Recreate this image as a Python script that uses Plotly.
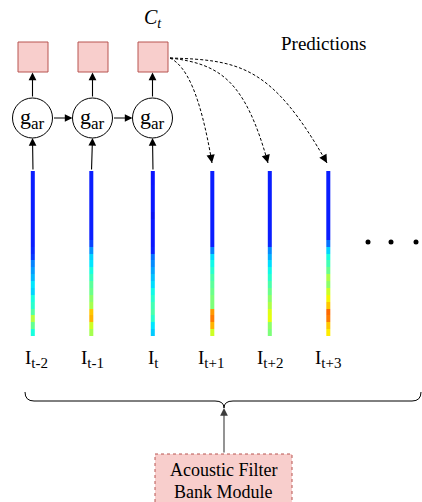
import plotly.graph_objects as go
import numpy as np

# ---- data ----
steps = ["t-2", "t-1", "t", "t+1", "t+2", "t+3"]
strip_x = [33, 91.5, 153, 212.5, 270, 328.5]
observed = [True, True, True, False, False, False]
# filter-bank energies (top -> bottom), normalised 0..1
energies = [
    [0.13, 0.13, 0.13, 0.13, 0.13, 0.13, 0.13, 0.13, 0.13, 0.13, 0.13, 0.14, 0.16, 0.24, 0.27, 0.3, 0.35, 0.33, 0.38, 0.4, 0.45, 0.57, 0.47, 0.38],
    [0.13, 0.13, 0.13, 0.13, 0.13, 0.13, 0.13, 0.13, 0.13, 0.13, 0.17, 0.26, 0.33, 0.35, 0.38, 0.42, 0.46, 0.48, 0.52, 0.55, 0.7, 0.72, 0.6, 0.55],
    [0.11, 0.11, 0.12, 0.12, 0.12, 0.12, 0.1, 0.12, 0.12, 0.12, 0.12, 0.13, 0.22, 0.25, 0.28, 0.31, 0.34, 0.37, 0.4, 0.43, 0.44, 0.4, 0.35, 0.32],
    [0.13, 0.13, 0.13, 0.13, 0.13, 0.13, 0.13, 0.13, 0.13, 0.13, 0.13, 0.24, 0.34, 0.37, 0.4, 0.44, 0.46, 0.48, 0.5, 0.5, 0.75, 0.78, 0.72, 0.6],
    [0.13, 0.13, 0.13, 0.13, 0.13, 0.13, 0.13, 0.13, 0.13, 0.13, 0.14, 0.25, 0.29, 0.34, 0.37, 0.4, 0.44, 0.48, 0.52, 0.56, 0.62, 0.63, 0.52, 0.5],
    [0.13, 0.13, 0.13, 0.13, 0.13, 0.13, 0.13, 0.13, 0.13, 0.13, 0.22, 0.33, 0.38, 0.43, 0.48, 0.56, 0.52, 0.6, 0.65, 0.7, 0.8, 0.78, 0.7, 0.66],
]
strip_top, strip_bottom = 171, 336

jet = [
    [0.0, "rgb(0,0,128)"], [0.11, "rgb(10,20,255)"], [0.125, "rgb(10,25,255)"],
    [0.35, "rgb(0,230,255)"], [0.375, "rgb(20,255,226)"], [0.5, "rgb(124,255,121)"],
    [0.64, "rgb(238,255,4)"], [0.66, "rgb(255,236,0)"], [0.89, "rgb(255,22,0)"],
    [0.91, "rgb(241,0,0)"], [1.0, "rgb(128,0,0)"],
]

SERIF = "Liberation Serif, Times New Roman, serif"
PINK = "rgb(248,206,204)"
RED = "rgb(184,84,80)"

fig = go.Figure()

# spectrogram strips
for xc, vals in zip(strip_x, energies):
    n = len(vals)
    fig.add_trace(go.Heatmap(
        z=[[v] for v in vals],
        x=[xc - 2.2, xc + 2.2],
        y=list(np.linspace(strip_top, strip_bottom, n + 1)),
        colorscale=jet, zmin=0, zmax=1, showscale=False, hoverinfo="skip",
    ))

# ellipsis dots
fig.add_trace(go.Scatter(x=[368, 391, 416], y=[242, 242, 242], mode="markers",
                         marker=dict(color="black", size=5), hoverinfo="skip"))

shapes = []
annotations = []

def arrow(x0, y0, x1, y1, color="black", width=1.1, size=1.4):
    annotations.append(dict(x=x1, y=y1, ax=x0, ay=y0, xref="x", yref="y", axref="x", ayref="y",
                            showarrow=True, arrowhead=2, arrowsize=size, arrowwidth=width,
                            arrowcolor=color, text="", standoff=0, startstandoff=0))

cx_obs = [x for x, o in zip(strip_x, observed) if o]
circle_cx = [32.5, 92.5, 152.5]
cy, r = 118, 20
for i, cx in enumerate(circle_cx):
    # context box
    shapes.append(dict(type="rect", x0=cx - 14.5, x1=cx + 15.5, y0=42, y1=72,
                       fillcolor=PINK, line=dict(color=RED, width=1)))
    # g_ar circle
    shapes.append(dict(type="circle", x0=cx - r, x1=cx + r, y0=cy - r, y1=cy + r,
                       fillcolor="white", line=dict(color="black", width=1)))
    annotations.append(dict(x=cx, y=cy, text="g<sub><span style='font-size:17px'>ar</span></sub>",
                            showarrow=False, font=dict(family=SERIF, size=22, color="black")))
    arrow(cx, cy - r, cx, 72.5)
    arrow(cx_obs[i], strip_top, cx, cy + r)
    if i < 2:
        arrow(cx + r, cy, circle_cx[i + 1] - r, cy)

# C_t label
annotations.append(dict(x=153, y=18, text="<i>C<sub>t</sub></i>", showarrow=False,
                        font=dict(family=SERIF, size=20, color="black")))
annotations.append(dict(x=324, y=43, text="Predictions", showarrow=False,
                        font=dict(family=SERIF, size=19, color="black")))

# dashed prediction curves
curves = [
    ((170, 58), (186, 66), (200, 92), (212, 163)),
    ((170, 58), (220, 64), (245, 80), (268, 163)),
    ((170, 58), (240, 60), (272, 66), (327, 163)),
]
for p0, c1, c2, p3 in curves:
    shapes.append(dict(type="path",
                       path=f"M {p0[0]},{p0[1]} C {c1[0]},{c1[1]} {c2[0]},{c2[1]} {p3[0]},{p3[1]}",
                       line=dict(color="black", width=1, dash="3px,2px")))
    d = np.array(p3, float) - np.array(c2, float)
    d /= np.linalg.norm(d)
    arrow(p3[0] - 9 * d[0], p3[1] - 9 * d[1], p3[0], p3[1], size=1.5)

# I labels
for xc, s in zip([36, 92, 153, 211, 270, 328], steps):
    annotations.append(dict(x=xc, y=359,
                            text=f"I<sub><span style='font-size:15px'>{s}</span></sub>",
                            showarrow=False, font=dict(family=SERIF, size=19, color="black")))

# curly brace
shapes.append(dict(type="path",
                   path="M 25,392 Q 25,401 34,401 L 215,401 Q 224,401 224,408 "
                        "Q 224,401 233,401 L 412,401 Q 421,401 421,392",
                   line=dict(color="black", width=1)))
arrow(224, 454, 224, 408, color="rgb(60,60,60)")

# acoustic filter bank module box
shapes.append(dict(type="rect", x0=155, x1=292, y0=454, y1=506, fillcolor=PINK,
                   line=dict(color=RED, width=1, dash="dot")))
annotations.append(dict(x=223.5, y=470, text="Acoustic Filter", showarrow=False,
                        font=dict(family=SERIF, size=18, color="black")))
annotations.append(dict(x=223.5, y=492, text="Bank Module", showarrow=False,
                        font=dict(family=SERIF, size=18, color="black")))

fig.update_layout(
    width=422, height=502, margin=dict(l=0, r=0, t=0, b=0),
    paper_bgcolor="white", plot_bgcolor="white", showlegend=False,
    xaxis=dict(range=[0, 422], visible=False, fixedrange=True),
    yaxis=dict(range=[502, 0], visible=False, fixedrange=True),
    shapes=shapes, annotations=annotations,
)

fig.write_html("out.html", config={"displayModeBar": False},
               post_script="document.body.style.margin='0';document.body.style.overflow='hidden';")
